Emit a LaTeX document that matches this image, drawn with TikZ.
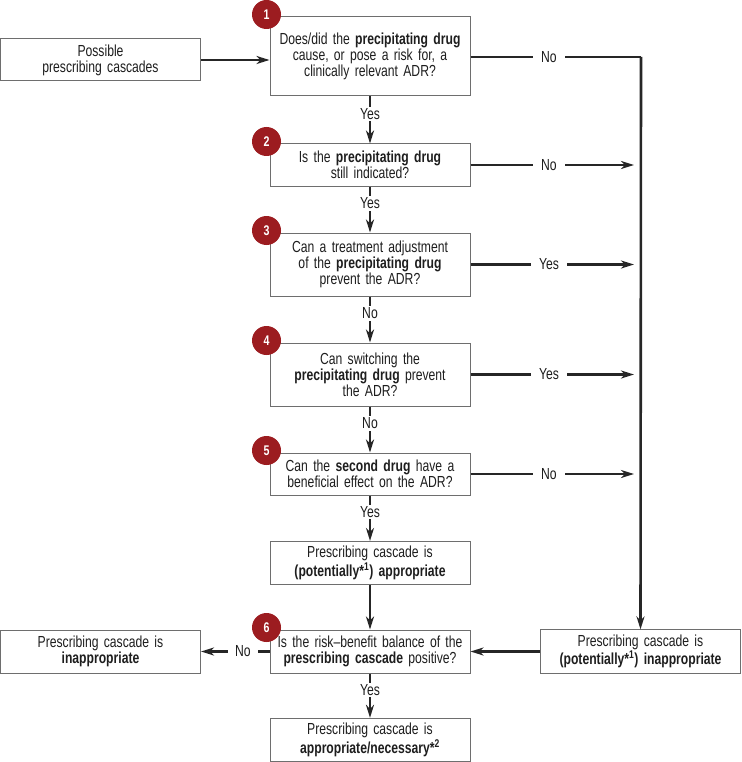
\documentclass[tikz,border=0pt]{standalone}
\usepackage{fontspec}
\setmainfont{Liberation Sans}[FakeStretch=0.76]
\usetikzlibrary{arrows.meta,positioning,calc}
\definecolor{txt}{HTML}{1E1E1E}
\definecolor{boxline}{HTML}{6E6E6E}
\definecolor{conn}{HTML}{262626}
\definecolor{badgered}{HTML}{9C1C20}
\newcommand{\boxtxtfont}{\fontsize{16}{16.2}\selectfont\spaceskip=3.4pt plus 1pt minus 0.5pt\relax}
\begin{document}
\begin{tikzpicture}[x=1pt,y=-1pt,
  font=\fontsize{16}{16.2}\selectfont, text=txt,
  qbox/.style={draw=boxline, line width=1pt, fill=white, align=center,
    text width=190pt, inner sep=5pt, anchor=center, font=\boxtxtfont},
  badge/.style={circle, fill=badgered, minimum size=29pt, inner sep=0pt,
    text=white, font=\fontsize{14}{14}\selectfont\bfseries},
  conn/.style={draw=conn, line width=2.6pt},
  arr/.style={conn, -{Stealth[length=13pt,width=8pt,inset=4pt]}},
  lab/.style={fill=white, inner xsep=8pt, inner ysep=1pt, text=txt},
  vlab/.style={fill=white, inner xsep=2pt, inner ysep=1.5pt, text=txt}]
\useasboundingbox (0,0) rectangle (741,762);
% boxes
\node[qbox, minimum height=42pt] (start) at (100.5,60) {Possible\\prescribing cascades};
\node[qbox, minimum height=79pt] (b1) at (370,56.5) {Does/did the \textbf{precipitating drug}\\cause, or pose a risk for, a\\clinically relevant ADR?};
\node[qbox, minimum height=42pt] (b2) at (370,165) {Is the \textbf{precipitating drug}\\still indicated?};
\node[qbox, minimum height=63pt] (b3) at (370,264.5) {Can a treatment adjustment\\of the \textbf{precipitating drug}\\prevent the ADR?};
\node[qbox, minimum height=63pt] (b4) at (370,374.5) {Can switching the\\\textbf{precipitating drug} prevent\\the ADR?};
\node[qbox, minimum height=42pt] (b5) at (370,474) {Can the \textbf{second drug} have a\\beneficial effect on the ADR?};
\node[qbox, minimum height=42pt] (app) at (370,563) {Prescribing cascade is\\\textbf{(potentially*\textsuperscript{1}) appropriate}};
\node[qbox, minimum height=43pt] (b6) at (370,651.5) {Is the risk\textendash benefit balance of the\\\textbf{prescribing cascade} positive?};
\node[qbox, minimum height=42pt] (fin) at (370,740) {Prescribing cascade is\\\textbf{appropriate/necessary*\textsuperscript{2}}};
\node[qbox, minimum height=43pt] (left) at (100.5,651.5) {Prescribing cascade is\\\textbf{inappropriate}};
\node[qbox, minimum height=43pt] (right) at (640.5,651.5) {Prescribing cascade is\\\textbf{(potentially*\textsuperscript{1}) inappropriate}};
% badges
\node[badge] (n1) at ($(b1.north west)+(-3,-2)$) {1};
\node[badge] (n2) at ($(b2.north west)+(-3,-2)$) {2};
\node[badge] (n3) at ($(b3.north west)+(-3,-2)$) {3};
\node[badge] (n4) at ($(b4.north west)+(-3,-2)$) {4};
\node[badge] (n5) at ($(b5.north west)+(-3,-2)$) {5};
\node[badge] (n6) at ($(b6.north west)+(-3,-2)$) {6};
% right column coordinates
\coordinate (c1) at (641,57);
\coordinate (c2) at (634,165);
\coordinate (c3) at (634,264.5);
\coordinate (c4) at (634,374.5);
\coordinate (c5) at (634,474);
% connectors
\draw[arr] (start.east) -- (start.east -| b1.west);
\draw[conn] (b1.east |- c1) -- node[lab, pos=0.46]{No} (c1);
\draw[arr] (c1) -- (right.north);
\draw[arr] (b2.east) -- node[lab, pos=0.48]{No} (c2);
\draw[arr] (b3.east) -- node[lab, pos=0.48]{Yes} (c3);
\draw[arr] (b4.east) -- node[lab, pos=0.48]{Yes} (c4);
\draw[arr] (b5.east) -- node[lab, pos=0.48]{No} (c5);
\draw[arr] (b1.south) -- node[vlab, pos=0.37]{Yes} (b2.north);
\draw[arr] (b2.south) -- node[vlab, pos=0.37]{Yes} (b3.north);
\draw[arr] (b3.south) -- node[vlab, pos=0.37]{No} (b4.north);
\draw[arr] (b4.south) -- node[vlab, pos=0.37]{No} (b5.north);
\draw[arr] (b5.south) -- node[vlab, pos=0.37]{Yes} (app.north);
\draw[arr] (app.south) -- (b6.north);
\draw[arr] (b6.south) -- node[vlab, pos=0.37]{Yes} (fin.north);
\draw[arr] (right.west) -- (b6.east);
\draw[arr] (b6.west) -- node[lab, pos=0.39, inner xsep=7pt]{No} (left.east);
\end{tikzpicture}
\end{document}
